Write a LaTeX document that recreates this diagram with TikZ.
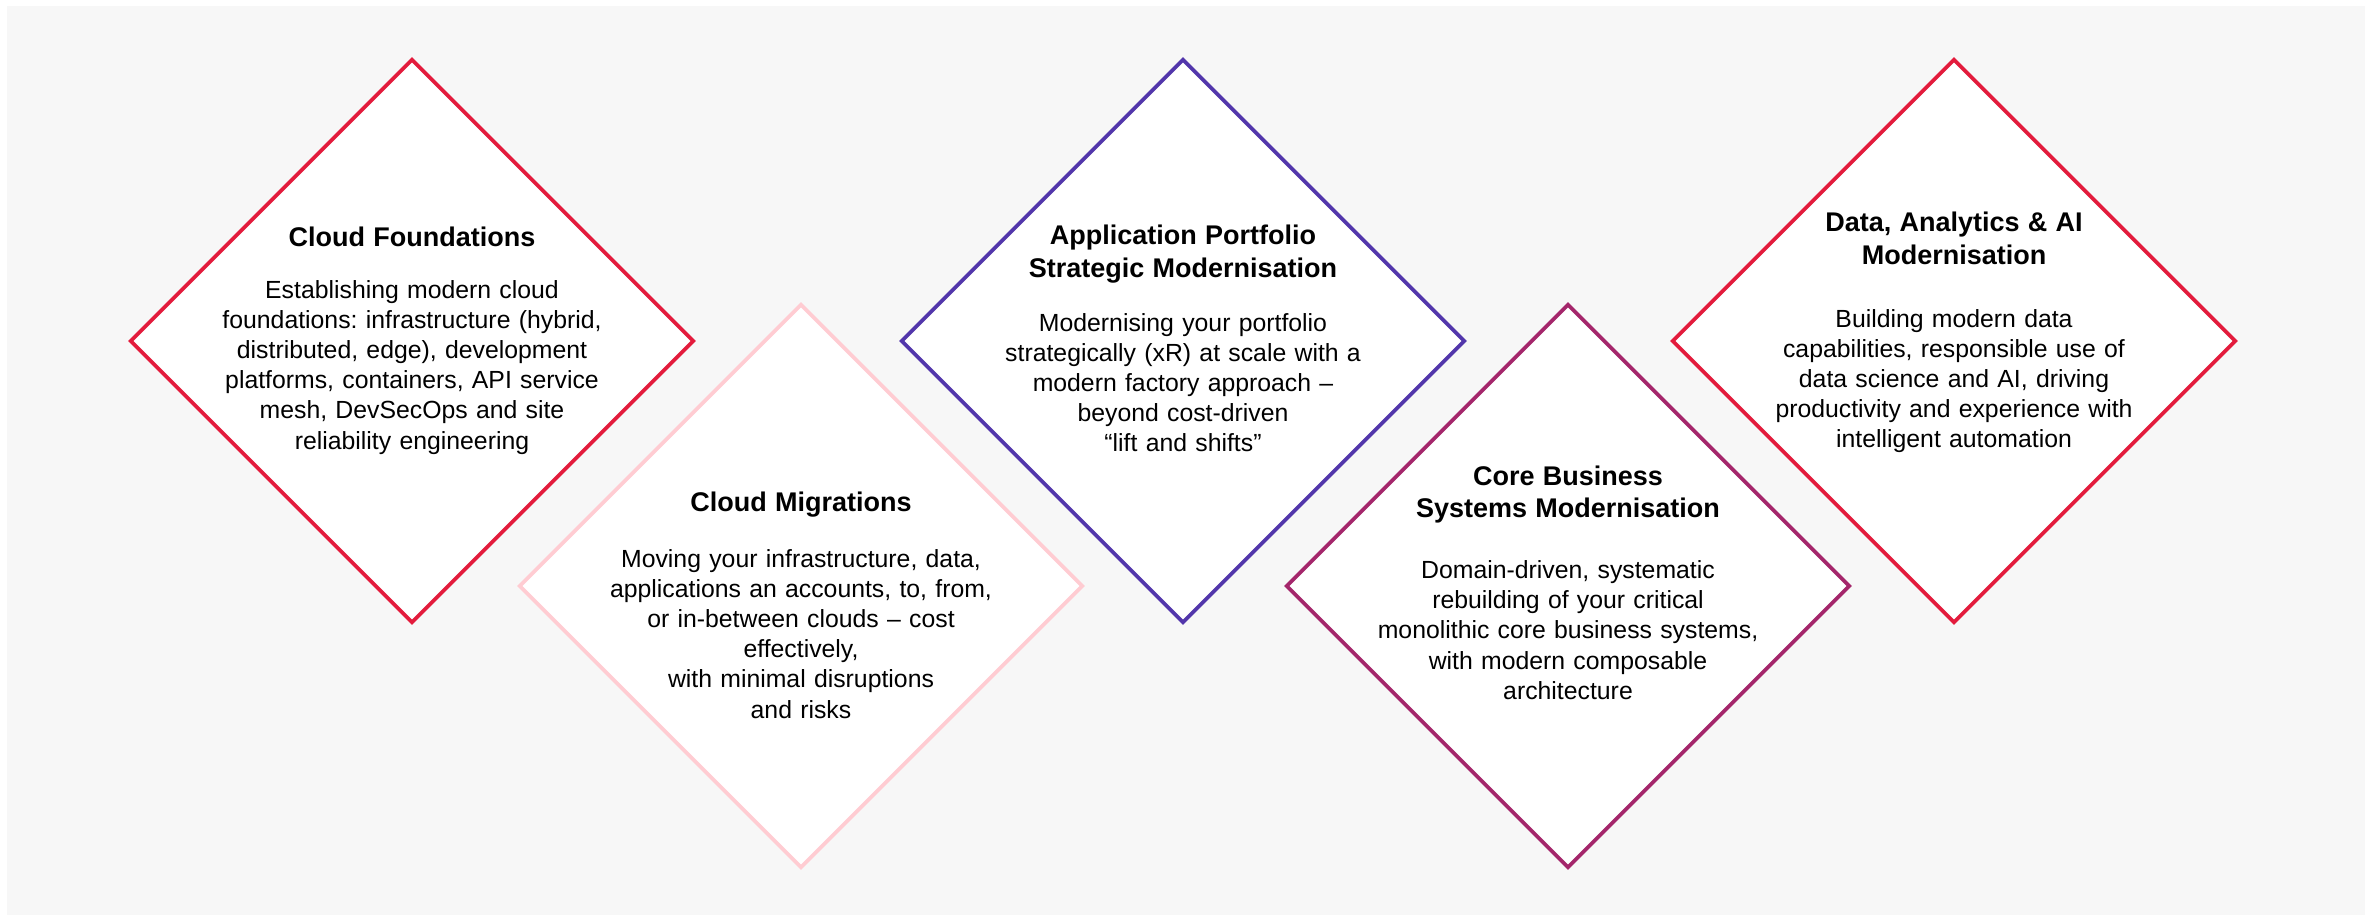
\documentclass[tikz,border=0pt]{standalone}
\usepackage{fontspec}
\setmainfont{Liberation Sans}
\usepackage{xcolor}
\usetikzlibrary{shapes.geometric}
\frenchspacing

\definecolor{backdrop}{HTML}{F7F7F7}
\definecolor{cgired}{HTML}{E31B3C}
\definecolor{blush}{HTML}{FFCCD2}
\definecolor{violet}{HTML}{5236AB}
\definecolor{plum}{HTML}{A4266B}

\newcommand{\headfont}{\fontsize{13.5}{15.1}\selectfont\bfseries}
\newcommand{\bodyfont}{\fontsize{12.4}{15.1}\selectfont\mdseries}

\tikzset{
  gem/.style={diamond, aspect=1, minimum width=282pt, minimum height=282pt,
    inner sep=0pt, line width=1.8pt, fill=white},
  blurb/.style={anchor=base, text width=220pt, align=center, inner sep=0pt,
    font=\bodyfont}
}

\begin{document}
\begin{tikzpicture}[x=0.5pt, y=-0.5pt]
\useasboundingbox (0,0) rectangle (2365,915);
\fill[backdrop] (7,6) rectangle (2365,915);

\node[gem, draw=cgired] (found) at (412,341) {};
\node[gem, draw=blush] (migr) at (801,586) {};
\node[gem, draw=violet] (apps) at (1183,341) {};
\node[gem, draw=plum] (core) at (1568,586) {};
\node[gem, draw=cgired] (data) at (1954,341) {};

\node[blurb] (found text) at (412,246) {\headfont Cloud Foundations\\[10.9pt]
  \bodyfont Establishing modern cloud\\foundations: infrastructure (hybrid,\\
  distributed, edge), development\\platforms, containers, API service\\
  mesh, DevSecOps and site\\reliability engineering};

\node[blurb] (migr text) at (801,511) {\headfont Cloud Migrations\\[12.9pt]
  \bodyfont Moving your infrastructure, data,\\applications an accounts, to, from,\\
  or in-between clouds -- cost\\effectively,\\with minimal disruptions\\and risks};

\node[blurb] (apps text) at (1183,244) {\headfont Application Portfolio\\[1.4pt]
  \headfont Strategic Modernisation\\[11.9pt]
  \bodyfont Modernising your portfolio\\strategically (xR) at scale with a\\
  modern factory approach --\\beyond cost-driven\\``lift and shifts''};

\node[blurb] (core text) at (1568,485) {\headfont Core Business\\[0.9pt]
  \headfont Systems Modernisation\\[15.6pt]
  \bodyfont Domain-driven, systematic\\rebuilding of your critical\\
  monolithic core business systems,\\with modern composable\\architecture};

\node[blurb] (data text) at (1954,231) {\headfont Data, Analytics \& AI\\[1.4pt]
  \headfont Modernisation\\[16.4pt]
  \bodyfont Building modern data\\capabilities, responsible use of\\
  data science and AI, driving\\productivity and experience with\\
  intelligent automation};

\end{tikzpicture}
\end{document}
